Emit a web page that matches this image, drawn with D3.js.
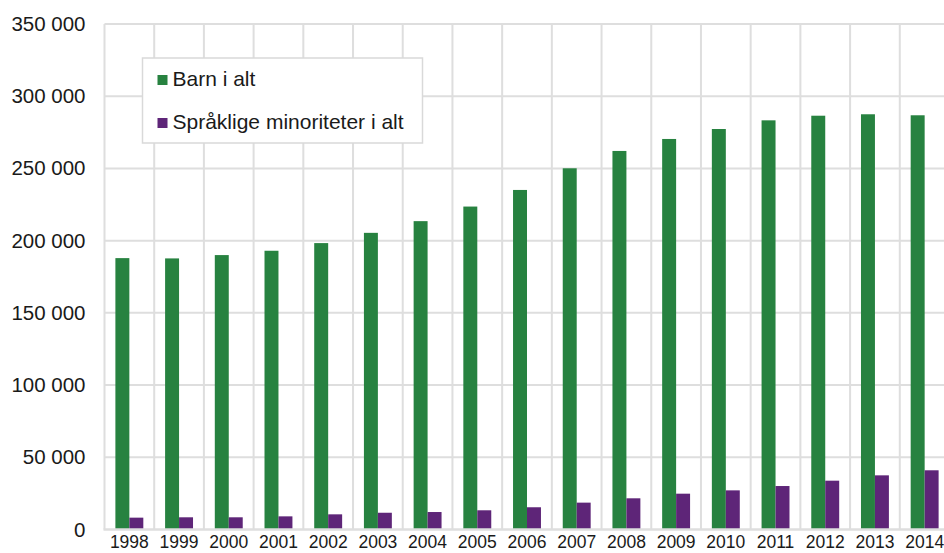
<!DOCTYPE html>
<html>
<head>
<meta charset="utf-8">
<script src="https://cdn.jsdelivr.net/npm/d3@7"></script>
<style>
  body { margin: 0; background: #fff; }
  svg { display: block; font-family: "Liberation Sans", Arial, sans-serif; }
</style>
</head>
<body>
<div id="chart"></div>
<script>
// data
var years = ["1998", "1999", "2000", "2001", "2002", "2003", "2004", "2005", "2006",
             "2007", "2008", "2009", "2010", "2011", "2012", "2013", "2014"];
var barnIAlt = [187900, 187700, 190000, 193000, 198300, 205400, 213500, 223600, 235100,
                250100, 262100, 270400, 277300, 283300, 286500, 287500, 286800];
var minoriteter = [8200, 8450, 8450, 9100, 10500, 11600, 12100, 13300, 15400,
                   18600, 21600, 24800, 27100, 30100, 33800, 37500, 41000];
var seriesNames = ["Barn i alt", "Språklige minoriteter i alt"];
var seriesColors = ["#278240", "#5e2578"];
var yTicks = [0, 50000, 100000, 150000, 200000, 250000, 300000, 350000];

var W = 944, H = 553;
var plotLeft = 104.5, plotRight = 949.5, plotTop = 24, plotBottom = 529.5;
var gridColor = "#dedede";

var svg = d3.select("#chart").append("svg")
    .attr("width", W)
    .attr("height", H);

var x0 = d3.scaleBand().domain(years).range([plotLeft, plotRight]).padding(0);
var x1 = d3.scaleBand().domain([0, 1]).range([0, x0.bandwidth()])
    .paddingInner(0).paddingOuter(0.78);
var y = d3.scaleLinear().domain([0, 350000]).range([plotBottom, plotTop]);

var fmt = function(v) { return d3.format(",")(v).replace(/,/g, " "); };

// horizontal grid
svg.append("g").selectAll("line")
    .data(yTicks.filter(function(d) { return d > 0; }))
  .enter().append("line")
    .attr("x1", plotLeft).attr("x2", W)
    .attr("y1", function(d) { return y(d); })
    .attr("y2", function(d) { return y(d); })
    .attr("stroke", gridColor)
    .attr("stroke-width", 2);

// vertical grid at category boundaries
svg.append("g").selectAll("line")
    .data(years)
  .enter().append("line")
    .attr("x1", function(d) { return x0(d); })
    .attr("x2", function(d) { return x0(d); })
    .attr("y1", plotTop).attr("y2", plotBottom)
    .attr("stroke", gridColor)
    .attr("stroke-width", 2);

// bars
var groups = svg.append("g").selectAll("g")
    .data(years)
  .enter().append("g")
    .attr("transform", function(d) { return "translate(" + x0(d) + ",0)"; });

groups.selectAll("rect")
    .data(function(d, i) { return [barnIAlt[i], minoriteter[i]]; })
  .enter().append("rect")
    .attr("x", function(d, j) { return x1(j); })
    .attr("width", x1.bandwidth())
    .attr("y", function(d) { return y(d); })
    .attr("height", function(d) { return plotBottom - y(d); })
    .attr("fill", function(d, j) { return seriesColors[j]; });

// baseline
svg.append("line")
    .attr("x1", plotLeft - 1).attr("x2", W)
    .attr("y1", plotBottom).attr("y2", plotBottom)
    .attr("stroke", gridColor)
    .attr("stroke-width", 2.5);

// y axis labels
var yAxis = d3.axisLeft(y).tickValues(yTicks).tickSize(0).tickPadding(19).tickFormat(fmt);
var gy = svg.append("g")
    .attr("transform", "translate(" + plotLeft + ",0)")
    .call(yAxis);
gy.select(".domain").remove();
gy.selectAll("text")
    .attr("fill", "#1a1a1a")
    .style("font-size", "20.5px")
    .style("font-family", "Liberation Sans, Arial, sans-serif");

// x axis labels
var xAxis = d3.axisBottom(x0).tickSize(0).tickPadding(6);
var gx = svg.append("g")
    .attr("transform", "translate(0," + plotBottom + ")")
    .call(xAxis);
gx.select(".domain").remove();
gx.selectAll("text")
    .attr("fill", "#1a1a1a")
    .style("font-size", "17.5px")
    .style("font-family", "Liberation Sans, Arial, sans-serif");

// legend
var legend = svg.append("g").attr("transform", "translate(142.5,58)");
legend.append("rect")
    .attr("width", 280).attr("height", 85)
    .attr("fill", "#fff")
    .attr("stroke", "#d9d9d9")
    .attr("stroke-width", 1.5);

var items = legend.selectAll(".item")
    .data(seriesNames)
  .enter().append("g")
    .attr("class", "item")
    .attr("transform", function(d, i) { return "translate(15," + (17 + i * 43) + ")"; });

items.append("rect")
    .attr("width", 10).attr("height", 10)
    .attr("fill", function(d, i) { return seriesColors[i]; });

items.append("text")
    .attr("x", 15).attr("y", 10.5)
    .attr("fill", "#1a1a1a")
    .style("font-size", "21px")
    .text(function(d) { return d; });
</script>
</body>
</html>
